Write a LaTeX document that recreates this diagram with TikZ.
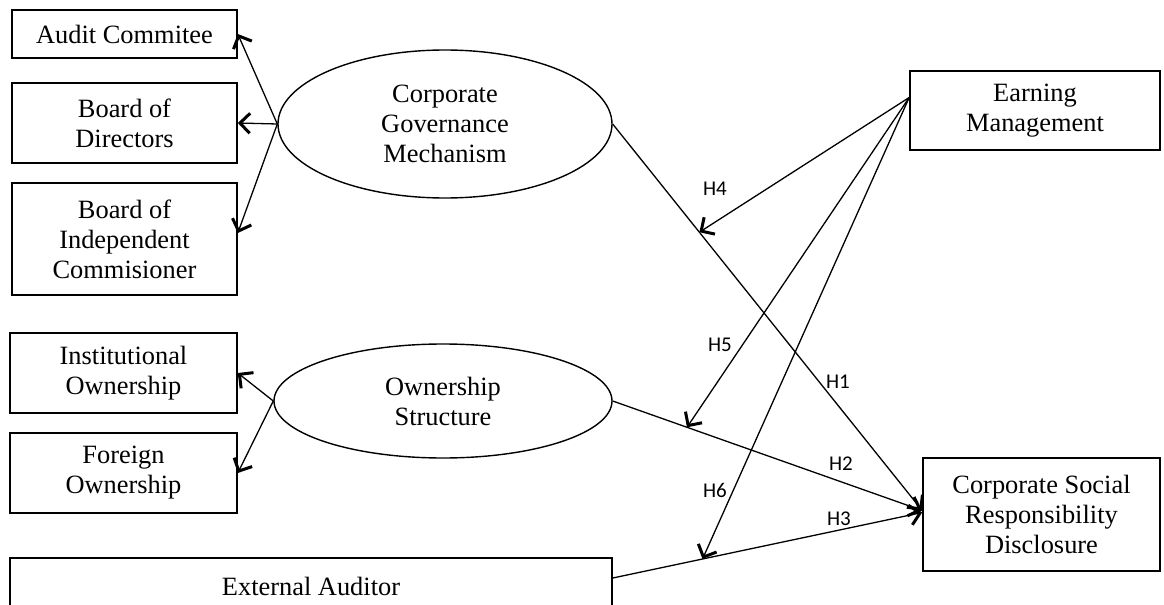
\documentclass[tikz,border=0pt]{standalone}
\usepackage{fontspec}
\setmainfont{Liberation Serif}
\newfontfamily\labfont{Carlito}
\usetikzlibrary{arrows.meta,shapes.geometric,calc}
\begin{document}
\begin{tikzpicture}[x=0.5pt,y=-0.5pt,
 box/.style={draw,line width=0.8pt,align=center,inner sep=0pt,font=\fontsize{13.2}{15}\selectfont},
 oval/.style={draw,ellipse,line width=0.7pt,align=center,inner sep=0pt,font=\fontsize{13.2}{15}\selectfont},
 conn/.style={line width=0.65pt,-{Straight Barb[length=5pt,width=10pt,line width=1.5pt]}},
 hyp/.style={font=\labfont\fontsize{10.5}{12}\selectfont,inner sep=0pt}]
\useasboundingbox (0,0) rectangle (1164,605);
\fill[white] (0,0) rectangle (1164,605);
% boxes
\node[box,minimum width=112.5pt,minimum height=24pt] (aud) at (124.5,34) {Audit Commitee};
\node[box,minimum width=112.5pt,minimum height=40pt] (bod) at (124.5,123) {Board of\\Directors};
\node[box,minimum width=112.5pt,minimum height=56pt] (bic) at (124.5,239) {Board of\\Independent\\Commisioner};
\node[box,minimum width=113.5pt,minimum height=40pt] (inst) at (123.5,373) {Institutional\\Ownership};
\node[box,minimum width=113.5pt,minimum height=40pt] (frgn) at (123.5,473) {Foreign\\Ownership};
\node[box,minimum width=301pt,minimum height=28pt] (ext) at (311,586) {External Auditor};
\node[box,minimum width=125pt,minimum height=39.5pt] (em) at (1035,110.5) {Earning\\Management};
\node[box,minimum width=118.5pt,minimum height=56.5pt] (csr) at (1041.5,514.5) {Corporate Social\\Responsibility\\Disclosure};
% ellipses
\node[oval,minimum width=167pt,minimum height=74pt] (cgm) at (445,124) {Corporate\\Governance\\Mechanism};
\node[oval,minimum width=169pt,minimum height=57pt] (own) at (443,401) {Ownership\\Structure};
% indicator arrows
\draw[conn] (cgm.west) -- (aud.east);
\draw[conn] (cgm.west) -- (bod.east);
\draw[conn] (cgm.west) -- ([yshift=3pt]bic.east);
\draw[conn] (own.west) -- (inst.east);
\draw[conn] (own.west) -- (frgn.east);
% hypotheses
\coordinate (csrin) at ([yshift=2pt]csr.west);
\coordinate (csrin3) at ([yshift=1pt]csr.west);
\coordinate (extout) at ([yshift=4pt]ext.east);
\coordinate (emout) at ([yshift=6.5pt]em.west);
\draw[conn] (cgm.east) -- coordinate[pos=0.28] (h4t) (csrin);
\draw[conn] (own.east) -- coordinate[pos=0.24] (h5t) (csrin);
\draw[conn] (extout) -- coordinate[pos=0.29] (h6t) (csrin3);
\draw[conn] (emout) -- (h4t);
\draw[conn] (emout) -- (h5t);
\draw[conn] (emout) -- (h6t);
% labels
\node[hyp] (l1) at (838,382) {H1};
\node[hyp] (l2) at (841,464) {H2};
\node[hyp] (l3) at (839,519) {H3};
\node[hyp] (l4) at (715,189) {H4};
\node[hyp] (l5) at (720,345) {H5};
\node[hyp] (l6) at (715,490) {H6};
\end{tikzpicture}
\end{document}
